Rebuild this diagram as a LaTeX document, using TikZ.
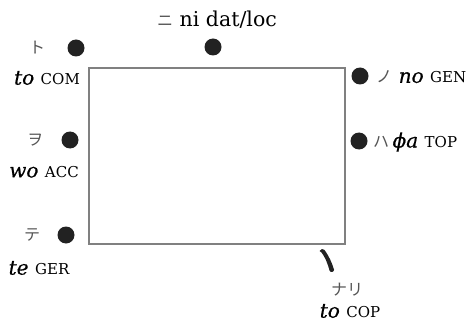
\documentclass[tikz,border=0pt]{standalone}
\usepackage{fontspec}
\setmainfont{DejaVu Serif}
\newfontfamily\jpfont{Noto Sans CJK JP}
\definecolor{dotc}{HTML}{222222}
\definecolor{boxc}{HTML}{808080}
\definecolor{kanac}{HTML}{555555}
\newcommand{\kana}[1]{{\jpfont\fontsize{16}{18}\selectfont\color{kanac}#1}}
\newcommand{\gl}[1]{{\fontsize{15}{17}\selectfont #1}}
\newcommand{\rom}[1]{{\itshape\fontsize{20}{22}\selectfont\addfontfeatures{FakeBold=0.6}#1}}
\begin{document}
\begin{tikzpicture}[x=1pt,y=-1pt,
  dotn/.style={circle,fill=dotc,inner sep=0pt,minimum size=17pt},
  lab/.style={inner sep=0pt,font=\fontsize{20.5}{22}\selectfont}]
\useasboundingbox (0,0) rectangle (470,323);
\draw[boxc,line width=1.2pt] (89,68) rectangle (345,244);
% dots
\node[dotn] (dto) at (76,48) {};
\node[dotn] (dni) at (213,47) {};
\node[dotn] (dno) at (360,76) {};
\node[dotn] (dwa) at (359,141) {};
\node[dotn] (dwo) at (70,140) {};
\node[dotn] (dte) at (66,235) {};
% labels
\node[lab] (kto) at (37,48) {\kana{ト}};
\node[lab] (lto) at (47,78) {\rom{to} \gl{COM}};
\node[lab,anchor=west] (lni) at (157,20) {\kana{ニ} ni dat/loc};
\node[lab,anchor=west] (lno) at (376,77) {\kana{ノ} \rom{no} \gl{GEN}};
\node[lab,anchor=west] (lwa) at (373,142) {\kana{ハ}\,\rom{ϕa} \gl{TOP}};
\node[lab] (kwo) at (35,140) {\kana{ヲ}};
\node[lab] (lwo) at (44,172) {\rom{wo} \gl{ACC}};
\node[lab] (kte) at (32,235) {\kana{テ}};
\node[lab] (lte) at (39,268) {\rom{te} \gl{GER}};
\node[lab] (knr) at (347,290) {\kana{ナリ}};
\node[lab] (lcop) at (350,311) {\rom{to} \gl{COP}};
% brush stroke
\fill[dotc] (319.5,251) .. controls (321,248.5) and (323,248.5) .. (324.5,250)
  .. controls (329,256) and (332,263) .. (334,269.5)
  .. controls (334.5,272) and (330.5,273) .. (329.5,270.5)
  .. controls (327.5,263) and (325,257) .. (321.5,252.5)
  .. controls (320.5,252.5) and (319.8,252) .. (319.5,251) -- cycle;
\end{tikzpicture}
\end{document}
